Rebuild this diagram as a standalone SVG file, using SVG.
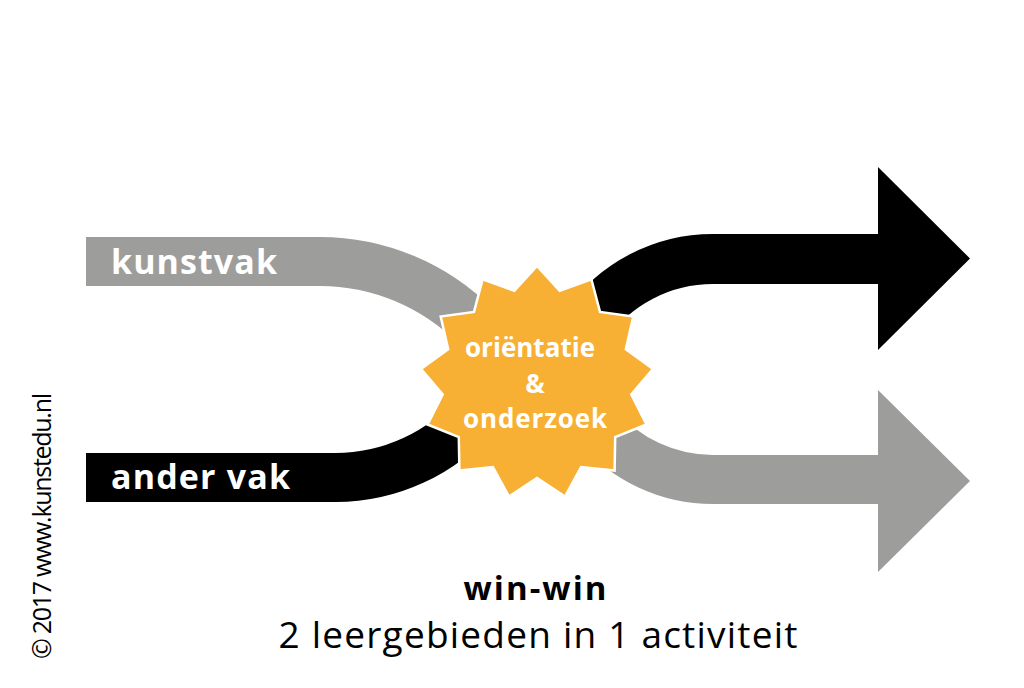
<svg xmlns="http://www.w3.org/2000/svg" width="1024" height="688" viewBox="0 0 1024 688">
  <style>
    .band { fill: none; stroke-linecap: butt; }
    .gray { stroke: #9d9d9c; }
    .black { stroke: #000000; }
    .lbl { font-family: "Open Sans", "Liberation Sans", sans-serif; font-weight: 700; fill: #ffffff; }
    .star-t { font-family: "Open Sans", "Liberation Sans", sans-serif; font-weight: 700; fill: #ffffff; font-size: 26px; text-anchor: middle; }
    .cap { font-family: "Open Sans", "Liberation Sans", sans-serif; fill: #000000; }
  </style>
  <rect width="1024" height="688" fill="#ffffff"/>
  <g id="connectors">
    <path id="in-kunstvak" class="band gray" stroke-width="49" d="M86,261.5 H320 A220,220 0 0 1 475.6,326.4"/>
    <path id="in-andervak" class="band black" stroke-width="49" d="M86,477.5 H335 A186,186 0 0 0 477.5,411.6"/>
    <g id="out-top">
      <path class="band black" stroke-width="50" d="M586,325 A155,155 0 0 1 713,259 H880"/>
      <polygon points="878,167 970,258.5 878,350" fill="#000000"/>
    </g>
    <g id="out-bottom">
      <path class="band gray" stroke-width="49" d="M596.6,425.2 A152,152 0 0 0 713,479.5 H880"/>
      <polygon points="878,390 970,481 878,572" fill="#9d9d9c"/>
    </g>
  </g>
  <g id="node-kunstvak">
    <text class="lbl" x="111" y="274" font-size="34" textLength="166" lengthAdjust="spacing">kunstvak</text>
  </g>
  <g id="node-andervak">
    <text class="lbl" x="111" y="489" font-size="34" textLength="179" lengthAdjust="spacing">ander vak</text>
  </g>
  <g id="node-star">
    <polygon fill="#f7b033" stroke="#ffffff" stroke-width="2.5" stroke-linejoin="miter" points="537,266 559.7,290.8 591.4,279.4 600,311.9 633.3,316.5 625.8,349.3 653.1,368.9 631.3,394.4 646.4,424.5 615.2,437 614.6,470.6 581.1,467.1 565,496.6 537,478 509,496.6 492.9,467.1 459.4,470.6 458.8,437 427.6,424.5 442.7,394.4 420.9,368.9 448.2,349.3 440.7,316.5 474,311.9 482.6,279.4 514.3,290.8"/>
    <text class="star-t" x="530" y="357" textLength="130" lengthAdjust="spacing">oriëntatie</text>
    <text class="star-t" x="535" y="393">&amp;</text>
    <text class="star-t" x="535" y="428" textLength="144" lengthAdjust="spacing">onderzoek</text>
  </g>
  <g id="caption">
    <text class="cap" x="535" y="600" font-size="33" font-weight="700" text-anchor="middle" textLength="143" lengthAdjust="spacing">win-win</text>
    <text class="cap" x="538" y="648" font-size="37" text-anchor="middle" textLength="519" lengthAdjust="spacing">2 leergebieden in 1 activiteit</text>
  </g>
  <g id="copyright">
    <text class="cap" transform="translate(51,659) rotate(-90)" x="0" y="0" font-size="25" textLength="266" lengthAdjust="spacing">© 2017 www.kunstedu.nl</text>
  </g>
</svg>
